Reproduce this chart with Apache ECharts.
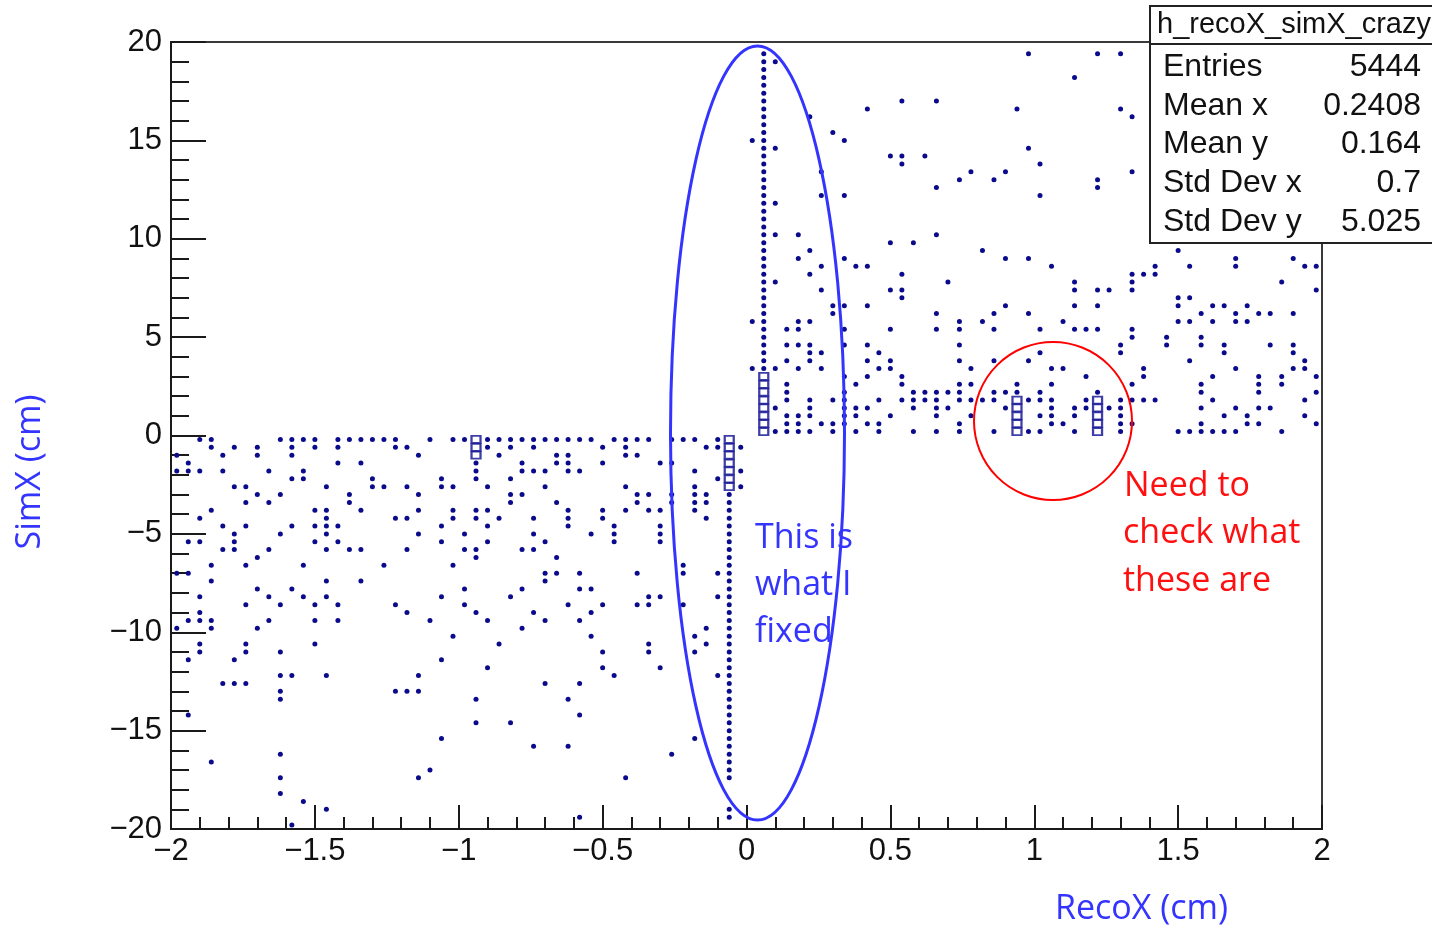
<!DOCTYPE html>
<html><head><meta charset="utf-8">
<script src="https://cdn.jsdelivr.net/npm/echarts@6/dist/echarts.min.js"></script>
<style>html,body{margin:0;padding:0;background:#fff;} #c{width:1432px;height:930px;}</style>
</head><body><div id="c"></div>
<script>
// Histogram binning of h_recoX_simX_crazy (100 x 100 bins)
const X_LO = -2, X_STEP = 0.04, Y_LO = -20, Y_STEP = 0.4;

// Filled bins: [yBin, [xBins...]]  (SimX < 0 half)
const lowerRows = [
  [49,[2,3,9,10,11,12,14,15,16,17,18,19,22,24,25,27,28,29,30,31,32,33,34,35,36,38,39,40,41,43,44,45,47]],
  [48,[3,5,7,10,12,14,19,20,27,29,31,37,39,46,47,49]],
  [47,[0,4,7,10,21,28,33,34,39,40]],
  [46,[1,14,16,26,30,33,34,37,42,43]],
  [45,[0,1,2,4,8,11,26,30,31,32,34,35,45,49]],
  [44,[10,11,17,23,26,29,47]],
  [43,[5,6,13,17,18,20,23,24,27,32,39,45,49]],
  [42,[7,9,15,21,29,30,40,41,43,45,46]],
  [41,[6,8,15,29,33,40,43,45,46]],
  [40,[3,12,13,16,21,24,26,27,34,37,39,41,42,45]],
  [39,[2,13,19,20,24,26,28,31,34,37,46]],
  [38,[4,6,10,12,13,14,23,27,34,38,42]],
  [37,[5,9,13,21,25,31,36,38,42]],
  [36,[1,2,5,12,14,23,27,32,38,42]],
  [35,[4,5,8,13,15,16,20,25,26,30,31]],
  [34,[7,26,33]],
  [33,[3,6,11,18,24,44]],
  [32,[0,1,32,33,35,40,44,47]],
  [31,[3,13,16,32]],
  [30,[7,10,25,30,35,36]],
  [29,[2,8,11,13,23,29,41,42,47]],
  [28,[6,9,12,14,19,25,34,37,40,41,44]],
  [27,[2,20,26,31,36]],
  [26,[1,2,3,8,12,14,22,27,32,35]],
  [25,[0,3,7,30,46]],
  [24,[24,36,45]],
  [23,[2,6,12,28,41,46]],
  [22,[2,6,9,37,41,45]],
  [21,[1,5,23]],
  [20,[27,37,42]],
  [19,[9,10,13,21,38,47]],
  [18,[4,5,6,32,35]],
  [17,[9,19,20,21]],
  [16,[9,26,34]],
  [14,[1,35]],
  [13,[26,29]],
  [11,[23,45]],
  [10,[31,34]],
  [9,[9,43]],
  [8,[3]],
  [7,[22]],
  [6,[9,21,39]],
  [4,[9]],
  [3,[11]],
  [2,[13]],
  [1,[35]],
  [0,[10]]
];

// Filled bins (SimX > 0 half)
const upperRows = [
  [98,[74,80,82]],
  [97,[52]],
  [95,[78]],
  [92,[63,66]],
  [91,[60,73,82]],
  [90,[55,83]],
  [88,[57]],
  [87,[50,58]],
  [86,[52,74]],
  [85,[62,63,65]],
  [84,[63,75]],
  [83,[56,69,72,83]],
  [82,[68,71,80]],
  [81,[66,80]],
  [80,[56,58,75]],
  [79,[52]],
  [75,[52,54,66]],
  [74,[62,64]],
  [73,[55,70,87]],
  [72,[54,58,72,74,92,97]],
  [71,[56,59,60,76,85,88,92,98,99]],
  [70,[55,63,83,84,85]],
  [69,[52,67,78,83,96]],
  [68,[56,62,63,78,80,81,83,99]],
  [67,[63,87,88]],
  [66,[57,58,60,72,78,80,87,90,91,93]],
  [65,[57,66,71,74,89,92,94,95,97]],
  [64,[50,54,55,68,70,77,87,88,90,92,93]],
  [63,[53,54,58,62,66,68,71,75,78,79,80,83]],
  [62,[83,86,89]],
  [61,[53,54,55,58,60,68,82,86,89,91,95,97]],
  [60,[55,56,61,75,82,91,97]],
  [59,[53,55,60,62,68,71,74,88,98]],
  [58,[50,52,54,56,61,62,69,76,77,84,92,97,98]],
  [57,[58,60,63,79,84,90,94,96,99]],
  [56,[53,59,63,68,69,73,76,83,89,94,96]],
  [55,[53,58,64,65,66,67,68,71,72,73,75,80,89,94,99]],
  [54,[53,55,57,58,61,63,64,65,66,68,69,70,71,74,75,76,79,82,83,84,85,90,98]],
  [53,[52,55,58,59,60,64,66,67,72,76,78,79,81,82,89,92,94,95]],
  [52,[53,54,55,58,59,62,66,69,75,76,78,82,91,93,98]],
  [51,[53,54,56,57,58,60,61,68,76,77,82,83,89,93,94,99]],
  [50,[52,53,54,55,57,59,61,64,66,68,71,74,75,78,82,87,88,89,90,91,92,96]]
];

// The two dense columns
const fixedColumnX = 48;
const fixedColumnY = [1,2,6,7,8,9,10,11,12,13,14,15,16,17,18,19,20,21,22,23,24,25,26,27,28,29,30,31,32,33,34,35,36,37,38,39,40,41,42];
const upperColumnX = 51;
const upperColumnY = [58,59,60,61,62,63,64,65,66,67,68,69,70,71,72,73,74,75,76,77,78,79,80,81,82,83,84,85,86,87,88,89,90,91,92,93,94,95,96,97,98];

// Bins with several entries (drawn as boxes): [xBin, yBin]
const boxBins = [
  [26,47],[26,48],[26,49],
  [48,43],[48,44],[48,45],[48,46],[48,47],[48,48],[48,49],
  [51,50],[51,51],[51,52],[51,53],[51,54],[51,55],[51,56],[51,57],
  [73,50],[73,51],[73,52],[73,53],[73,54],
  [80,50],[80,51],[80,52],[80,53],[80,54]
];

const statLabels = ['Entries','Mean x','Mean y','Std Dev x','Std Dev y'];
const statValues = ['5444','0.2408','0.164','0.7','5.025'];
const histName = 'h_recoX_simX_crazy';

function binCenter(ix, iy){ return [X_LO + X_STEP*(ix+0.5), Y_LO + Y_STEP*(iy+0.5)]; }

const dots = [];
lowerRows.concat(upperRows).forEach(([iy, xs]) => xs.forEach(ix => dots.push(binCenter(ix, iy))));
fixedColumnY.forEach(iy => dots.push(binCenter(fixedColumnX, iy)));
upperColumnY.forEach(iy => dots.push(binCenter(upperColumnX, iy)));
const boxes = boxBins.map(([ix, iy]) => binCenter(ix, iy));

function fmt(v){ return v < 0 ? '\u2212' + String(Math.abs(v)) : String(v); }

const chart = echarts.init(document.getElementById('c'), null, {renderer:'canvas'});
const BLUE = '#3434ff', RED = '#ff1010', INK = '#1a1a1a';
const annoFont = '"Open Sans", "Noto Sans", sans-serif';
const tickFont = '"Liberation Sans", Arial, sans-serif';

const statRows = [];
statLabels.forEach((lab, k) => {
  const cy = 67 + k*38.8;
  statRows.push({type:'text', z:102, style:{x:1163, y:cy, text:lab, fill:'#111', font:'32px ' + tickFont, textVerticalAlign:'middle', textAlign:'left'}});
  statRows.push({type:'text', z:102, style:{x:1421, y:cy, text:statValues[k], fill:'#111', font:'32px ' + tickFont, textVerticalAlign:'middle', textAlign:'right'}});
});

chart.setOption({
  animation:false,
  backgroundColor:'#ffffff',
  grid:{left:171, top:42, width:1151, height:787, show:true, borderColor:'#3a3a3a', borderWidth:2, backgroundColor:'transparent'},
  xAxis:{
    type:'value', min:-2, max:2, interval:0.5,
    axisLine:{show:true, onZero:false, lineStyle:{color:INK, width:2}},
    axisTick:{show:true, inside:true, length:24, lineStyle:{color:INK, width:2}},
    minorTick:{show:true, splitNumber:5, length:12, lineStyle:{color:INK, width:2}},
    splitLine:{show:false}, minorSplitLine:{show:false},
    axisLabel:{color:'#111', fontSize:31, fontFamily:tickFont, margin:7, formatter:fmt}
  },
  yAxis:{
    type:'value', min:-20, max:20, interval:5,
    axisLine:{show:true, onZero:false, lineStyle:{color:INK, width:2}},
    axisTick:{show:true, inside:true, length:35, lineStyle:{color:INK, width:2}},
    minorTick:{show:true, splitNumber:5, length:18, lineStyle:{color:INK, width:2}},
    splitLine:{show:false}, minorSplitLine:{show:false},
    axisLabel:{color:'#111', fontSize:31, fontFamily:tickFont, margin:9, formatter:fmt}
  },
  series:[
    {type:'scatter', name:'entries', data:dots, symbol:'circle', symbolSize:5,
     itemStyle:{color:'#0a0a8c', opacity:1}, silent:true, z:3},
    {type:'scatter', name:'multi', data:boxes, symbol:'rect', symbolSize:[9,7],
     itemStyle:{color:'rgba(255,255,255,0)', borderColor:'#0e0e92', borderWidth:2}, silent:true, z:4}
  ],
  graphic:[
    {type:'ellipse', z:50, shape:{cx:757.5, cy:433, rx:87, ry:387}, style:{fill:'none', stroke:BLUE, lineWidth:3}},
    {type:'circle', z:50, shape:{cx:1053, cy:421, r:79}, style:{fill:'none', stroke:'#ff0000', lineWidth:2}},
    {type:'text', z:60, style:{x:755, y:538, text:'This is', fill:BLUE, font:'34px ' + annoFont, textVerticalAlign:'middle'}},
    {type:'text', z:60, style:{x:755, y:585, text:'what I', fill:BLUE, font:'34px ' + annoFont, textVerticalAlign:'middle'}},
    {type:'text', z:60, style:{x:755, y:632, text:'fixed', fill:BLUE, font:'34px ' + annoFont, textVerticalAlign:'middle'}},
    {type:'text', z:60, style:{x:1124, y:486, text:'Need to', fill:RED, font:'34px ' + annoFont, textVerticalAlign:'middle'}},
    {type:'text', z:60, style:{x:1123, y:533, text:'check what', fill:RED, font:'34px ' + annoFont, textVerticalAlign:'middle'}},
    {type:'text', z:60, style:{x:1123, y:581, text:'these are', fill:RED, font:'34px ' + annoFont, textVerticalAlign:'middle'}},
    {type:'text', z:60, x:30, y:472, rotation:Math.PI/2, style:{x:0, y:0, text:'SimX (cm)', fill:BLUE, font:'34px ' + annoFont, textAlign:'center', textVerticalAlign:'middle'}},
    {type:'text', z:60, style:{x:1055, y:909, text:'RecoX (cm)', fill:BLUE, font:'34px ' + annoFont, textVerticalAlign:'middle'}},
    {type:'rect', z:100, shape:{x:1150, y:6, width:300, height:237}, style:{fill:'#ffffff', stroke:'#222', lineWidth:2}},
    {type:'line', z:101, shape:{x1:1150, y1:44, x2:1440, y2:44}, style:{stroke:'#222', lineWidth:2}},
    {type:'text', z:102, style:{x:1157, y:25, text:histName, fill:'#111', font:'29px ' + tickFont, textVerticalAlign:'middle', textAlign:'left'}}
  ].concat(statRows)
});
</script>
</body></html>
